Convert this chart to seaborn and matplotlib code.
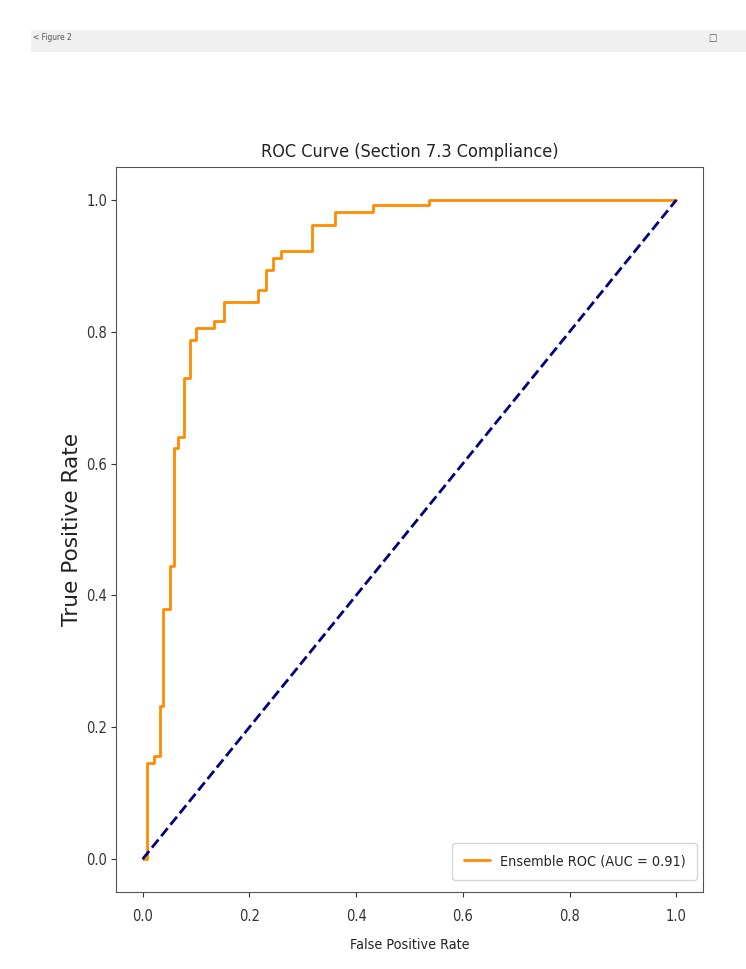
import matplotlib
matplotlib.use("Agg")
import matplotlib.pyplot as plt
import matplotlib.patches as mpatches
import seaborn as sns
import pandas as pd

# ---- data ----
fpr = [0.0, 0.008, 0.008, 0.021, 0.021, 0.033, 0.033, 0.039, 0.039, 0.052, 0.052,
       0.058, 0.058, 0.067, 0.067, 0.077, 0.077, 0.088, 0.088, 0.099, 0.099,
       0.134, 0.134, 0.153, 0.153, 0.216, 0.216, 0.232, 0.232, 0.245, 0.245,
       0.260, 0.260, 0.318, 0.318, 0.360, 0.360, 0.432, 0.432, 0.537, 0.537, 1.0]
tpr = [0.0, 0.0, 0.146, 0.146, 0.157, 0.157, 0.232, 0.232, 0.380, 0.380, 0.445,
       0.445, 0.623, 0.623, 0.640, 0.640, 0.730, 0.730, 0.787, 0.787, 0.806,
       0.806, 0.817, 0.817, 0.845, 0.845, 0.863, 0.863, 0.894, 0.894, 0.912,
       0.912, 0.923, 0.923, 0.962, 0.962, 0.982, 0.982, 0.992, 0.992, 1.0, 1.0]
chance_x = [0.0, 1.0]
chance_y = [0.0, 1.0]
auc_value = 0.91
title = "ROC Curve (Section 7.3 Compliance)"
xlabel = "False Positive Rate"
ylabel = "True Positive Rate"
xticks = [0.0, 0.2, 0.4, 0.6, 0.8, 1.0]
yticks = [0.0, 0.2, 0.4, 0.6, 0.8, 1.0]
window_title = "Figure 2"

sns.set_style("ticks")
plt.rcParams["font.family"] = ["DejaVu Sans"]
plt.rcParams["font.stretch"] = "condensed"

roc_df = pd.DataFrame({"fpr": fpr, "tpr": tpr})
diag_df = pd.DataFrame({"x": chance_x, "y": chance_y})

fig = plt.figure(figsize=(7.46, 9.69), dpi=100)
fig.patch.set_facecolor("white")

# window title bar
fig.patches.append(mpatches.Rectangle((31 / 746, 1 - 52 / 969), 1 - 31 / 746, 22 / 969,
                                      transform=fig.transFigure, facecolor="#f0f0f0",
                                      edgecolor="none", zorder=0))
fig.text(33 / 746, 1 - 37 / 969, "< " + window_title, fontsize=6, color="#555555",
         va="center", ha="left")
fig.text(712 / 746, 1 - 38 / 969, "□", fontsize=7, color="#555555", va="center",
         ha="center")

ax = fig.add_axes([116 / 746, 1 - 892 / 969, 587 / 746, 725 / 969])

sns.lineplot(data=roc_df, x="fpr", y="tpr", sort=False, estimator=None,
             color="darkorange", lw=2, ax=ax,
             label=f"Ensemble ROC (AUC = {auc_value:.2f})")
sns.lineplot(data=diag_df, x="x", y="y", sort=False, estimator=None,
             color="navy", lw=2, linestyle="--", ax=ax)

ax.set_xlim(-0.05, 1.05)
ax.set_ylim(-0.05, 1.05)
ax.set_xticks(xticks)
ax.set_yticks(yticks)
ax.set_xticklabels([f"{t:.1f}" for t in xticks])
ax.set_yticklabels([f"{t:.1f}" for t in yticks])
ax.tick_params(labelsize=10.5, colors="#333333")
ax.tick_params(axis="x", pad=8.5)
ax.tick_params(axis="y", pad=3)
for s in ax.spines.values():
    s.set_color("#555555")

ax.set_title(title, fontsize=13, pad=7.5, color="#222222")
ax.set_xlabel(xlabel, fontsize=10.3, labelpad=10.5, color="#222222")
ax.set_ylabel(ylabel, fontsize=15.6, labelpad=3, color="#222222",
              fontstretch="normal")

leg = ax.legend(loc="lower right", fontsize=10.4, frameon=True, borderpad=0.8,
                handlelength=1.8, handletextpad=0.7, borderaxespad=0,
                bbox_to_anchor=((697 - 116) / 587, (892 - 880) / 725))
leg.get_frame().set_edgecolor("#cccccc")

fig.savefig("out.png", dpi=100)
